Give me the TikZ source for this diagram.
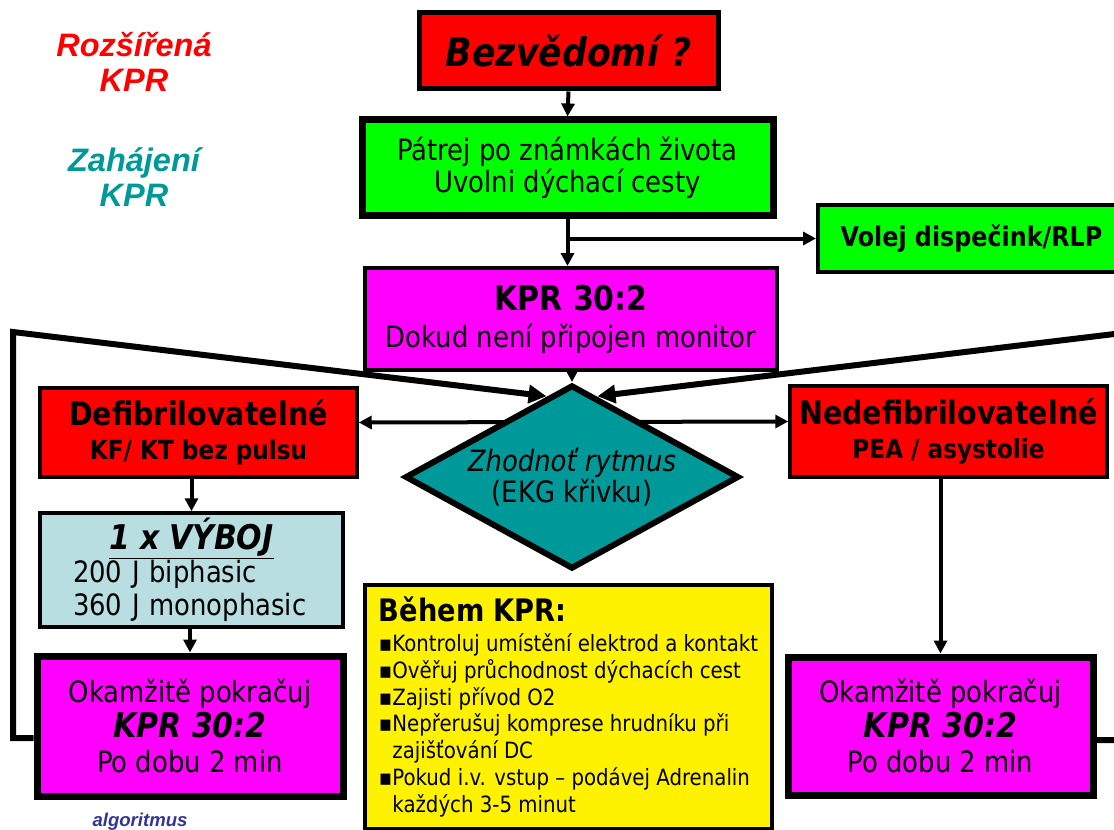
\documentclass[tikz,border=0pt]{standalone}
\usepackage{fontspec}
\setmainfont{DejaVu Sans}[FakeStretch=0.88]
\newfontfamily\arialfont{Liberation Sans}
\usetikzlibrary{shapes.geometric,arrows.meta,calc}
\newlength\pu
\setlength\pu{0.6464pt}
\newcommand\fs[2]{\fontsize{#1}{#2}\selectfont}
\definecolor{kprred}{RGB}{255,0,0}
\definecolor{kprgreen}{RGB}{0,255,0}
\definecolor{kprmag}{RGB}{255,0,255}
\definecolor{kprteal}{RGB}{0,153,153}
\definecolor{kprblue}{RGB}{185,222,226}
\definecolor{kprnavy}{RGB}{51,51,153}
\begin{document}
\begin{tikzpicture}[x=\pu,y=-\pu,
		kbox/.style={draw,rectangle,align=center,inner sep=0pt},
		arr/.style={line width=4\pu,arrows={-Triangle[length=8.4pt,width=8.4pt]}},
		arrboth/.style={line width=4\pu,arrows={Triangle[length=8.4pt,width=8.4pt]-Triangle[length=8.4pt,width=8.4pt]}},
		backline/.style={line width=6\pu,arrows={-Triangle[length=11.6pt,width=11.6pt]}}]
		\useasboundingbox (0,0) rectangle (1114,830);
		\clip (0,0) rectangle (1114,830);
		\node [text=kprred,align=center,font={\arialfont\bfseries\itshape\fs{21}{22.6}}] (r) at (134,62) {Rozšířená\\KPR};
		\node [text=kprteal,align=center,font={\arialfont\bfseries\itshape\fs{21}{22.6}}] (z) at (134,177) {Zahájení\\KPR};
		\node [text=kprnavy,font={\arialfont\bfseries\itshape\fs{12}{13}}] (alg) at (140,822) {algoritmus};
		\node [kbox,line width=5\pu,fill=kprred,minimum width=299\pu,minimum height=76\pu,font={\bfseries\itshape\fs{25.5}{30}}] (0) at (568.5,51) {Bezvědomí ?};
		\node [kbox,line width=7\pu,fill=kprgreen,minimum width=411\pu,minimum height=95\pu,font={\fs{19}{20.7}}] (1) at (567.5,167.5) {Pátrej po známkách života\\Uvolni dýchací cesty};
		\node [kbox,line width=4\pu,fill=kprgreen,minimum width=307\pu,minimum height=67\pu,font={\bfseries\fs{17.5}{19}}] (2) at (971.5,238.5) {Volej dispečink/RLP};
		\node [kbox,line width=4\pu,fill=kprmag,minimum width=412\pu,minimum height=102\pu,font={\fs{19}{24}}] (3) at (571,319) {{\bfseries\fs{22}{24}KPR 30:2}\\Dokud není připojen monitor};
		\node [kbox,line width=3.5\pu,fill=kprred,minimum width=317\pu,minimum height=89\pu,font={\bfseries\fs{17}{22}}] (5) at (198.5,432.5) {{\fs{21}{22}Defibrilovatelné}\\KF/ KT bez pulsu};
		\node [kbox,line width=3.5\pu,fill=kprred,minimum width=317\pu,minimum height=91\pu,font={\bfseries\fs{17}{22}}] (6) at (948.5,431.5) {{\fs{21}{22}Nedefibrilovatelné}\\PEA / asystolie};
		\draw [arrboth] ([yshift=10\pu]5.east) -- ([yshift=10\pu]6.west);
		\node [diamond,aspect=1.8,draw,line width=6\pu,fill=kprteal,minimum width=334\pu,minimum height=184\pu,inner sep=0pt,align=center,font={\fs{19}{20}}] (4) at (572,477) {{\itshape Zhodnoť rytmus}\\(EKG křivku)};
		\node [kbox,line width=3.5\pu,fill=kprblue,minimum width=303\pu,minimum height=114\pu,align=left,text width=237\pu,font={\fs{19}{21.5}}] (7) at (191.5,570) {\makebox[\linewidth][c]{\bfseries\itshape\fs{22}{22}\underline{1 x VÝBOJ}}\\200 J biphasic\\360 J monophasic};
		\node [kbox,line width=7\pu,fill=kprmag,minimum width=306\pu,minimum height=140\pu,font={\fs{19}{22.6}}] (8) at (190,726) {Okamžitě pokračuj\\{\bfseries\itshape\fs{22}{22.6}KPR 30:2}\\Po dobu 2 min};
		\node [kbox,line width=7\pu,fill=kprmag,minimum width=305\pu,minimum height=138\pu,font={\fs{19}{22.6}}] (9) at (940.5,726) {Okamžitě pokračuj\\{\bfseries\itshape\fs{22}{22.6}KPR 30:2}\\Po dobu 2 min};
		\node [kbox,line width=4\pu,fill=yellow,minimum width=407\pu,minimum height=244\pu,align=left,font={\fs{14.5}{17.3}}] (10) at (568.5,707) {{\bfseries\fs{20}{21}Během KPR:}\\[2pt]
			▪Kontroluj umístění elektrod a kontakt\\
			▪Ověřuj průchodnost dýchacích cest\\
			▪Zajisti přívod O2\\
			▪Nepřerušuj komprese hrudníku při\\
			\hspace*{0.6em}zajišťování DC\\
			▪Pokud i.v. vstup – podávej Adrenalin\\
			\hspace*{0.6em}každých 3-5 minut};
		\coordinate (a) at (13,332);
		\coordinate (b) at (1131,332);
		\draw [arr] (0.south) -- (1.north);
		\draw [arr] (1.south) -- (1.south |- 3.north);
		\draw [arr] (1.south |- 2.west) -- (2.west);
		\draw [arr] (4.north |- 3.south) -- (4.north);
		\draw [arr] (5.south -| 7.north) -- (7.north);
		\draw [arr] (7.south -| 8.north) -- (8.north);
		\draw [arr] (6.south -| 9.north) -- (9.north);
		\draw [backline] ([yshift=-12\pu]8.west) -| (a) -- ($(4.north)!0.15!(4.west)$);
		\draw [backline] ([yshift=-14\pu]9.east) -| (b) -- ($(4.north)!0.15!(4.east)$);
	\end{tikzpicture}
\end{document}
